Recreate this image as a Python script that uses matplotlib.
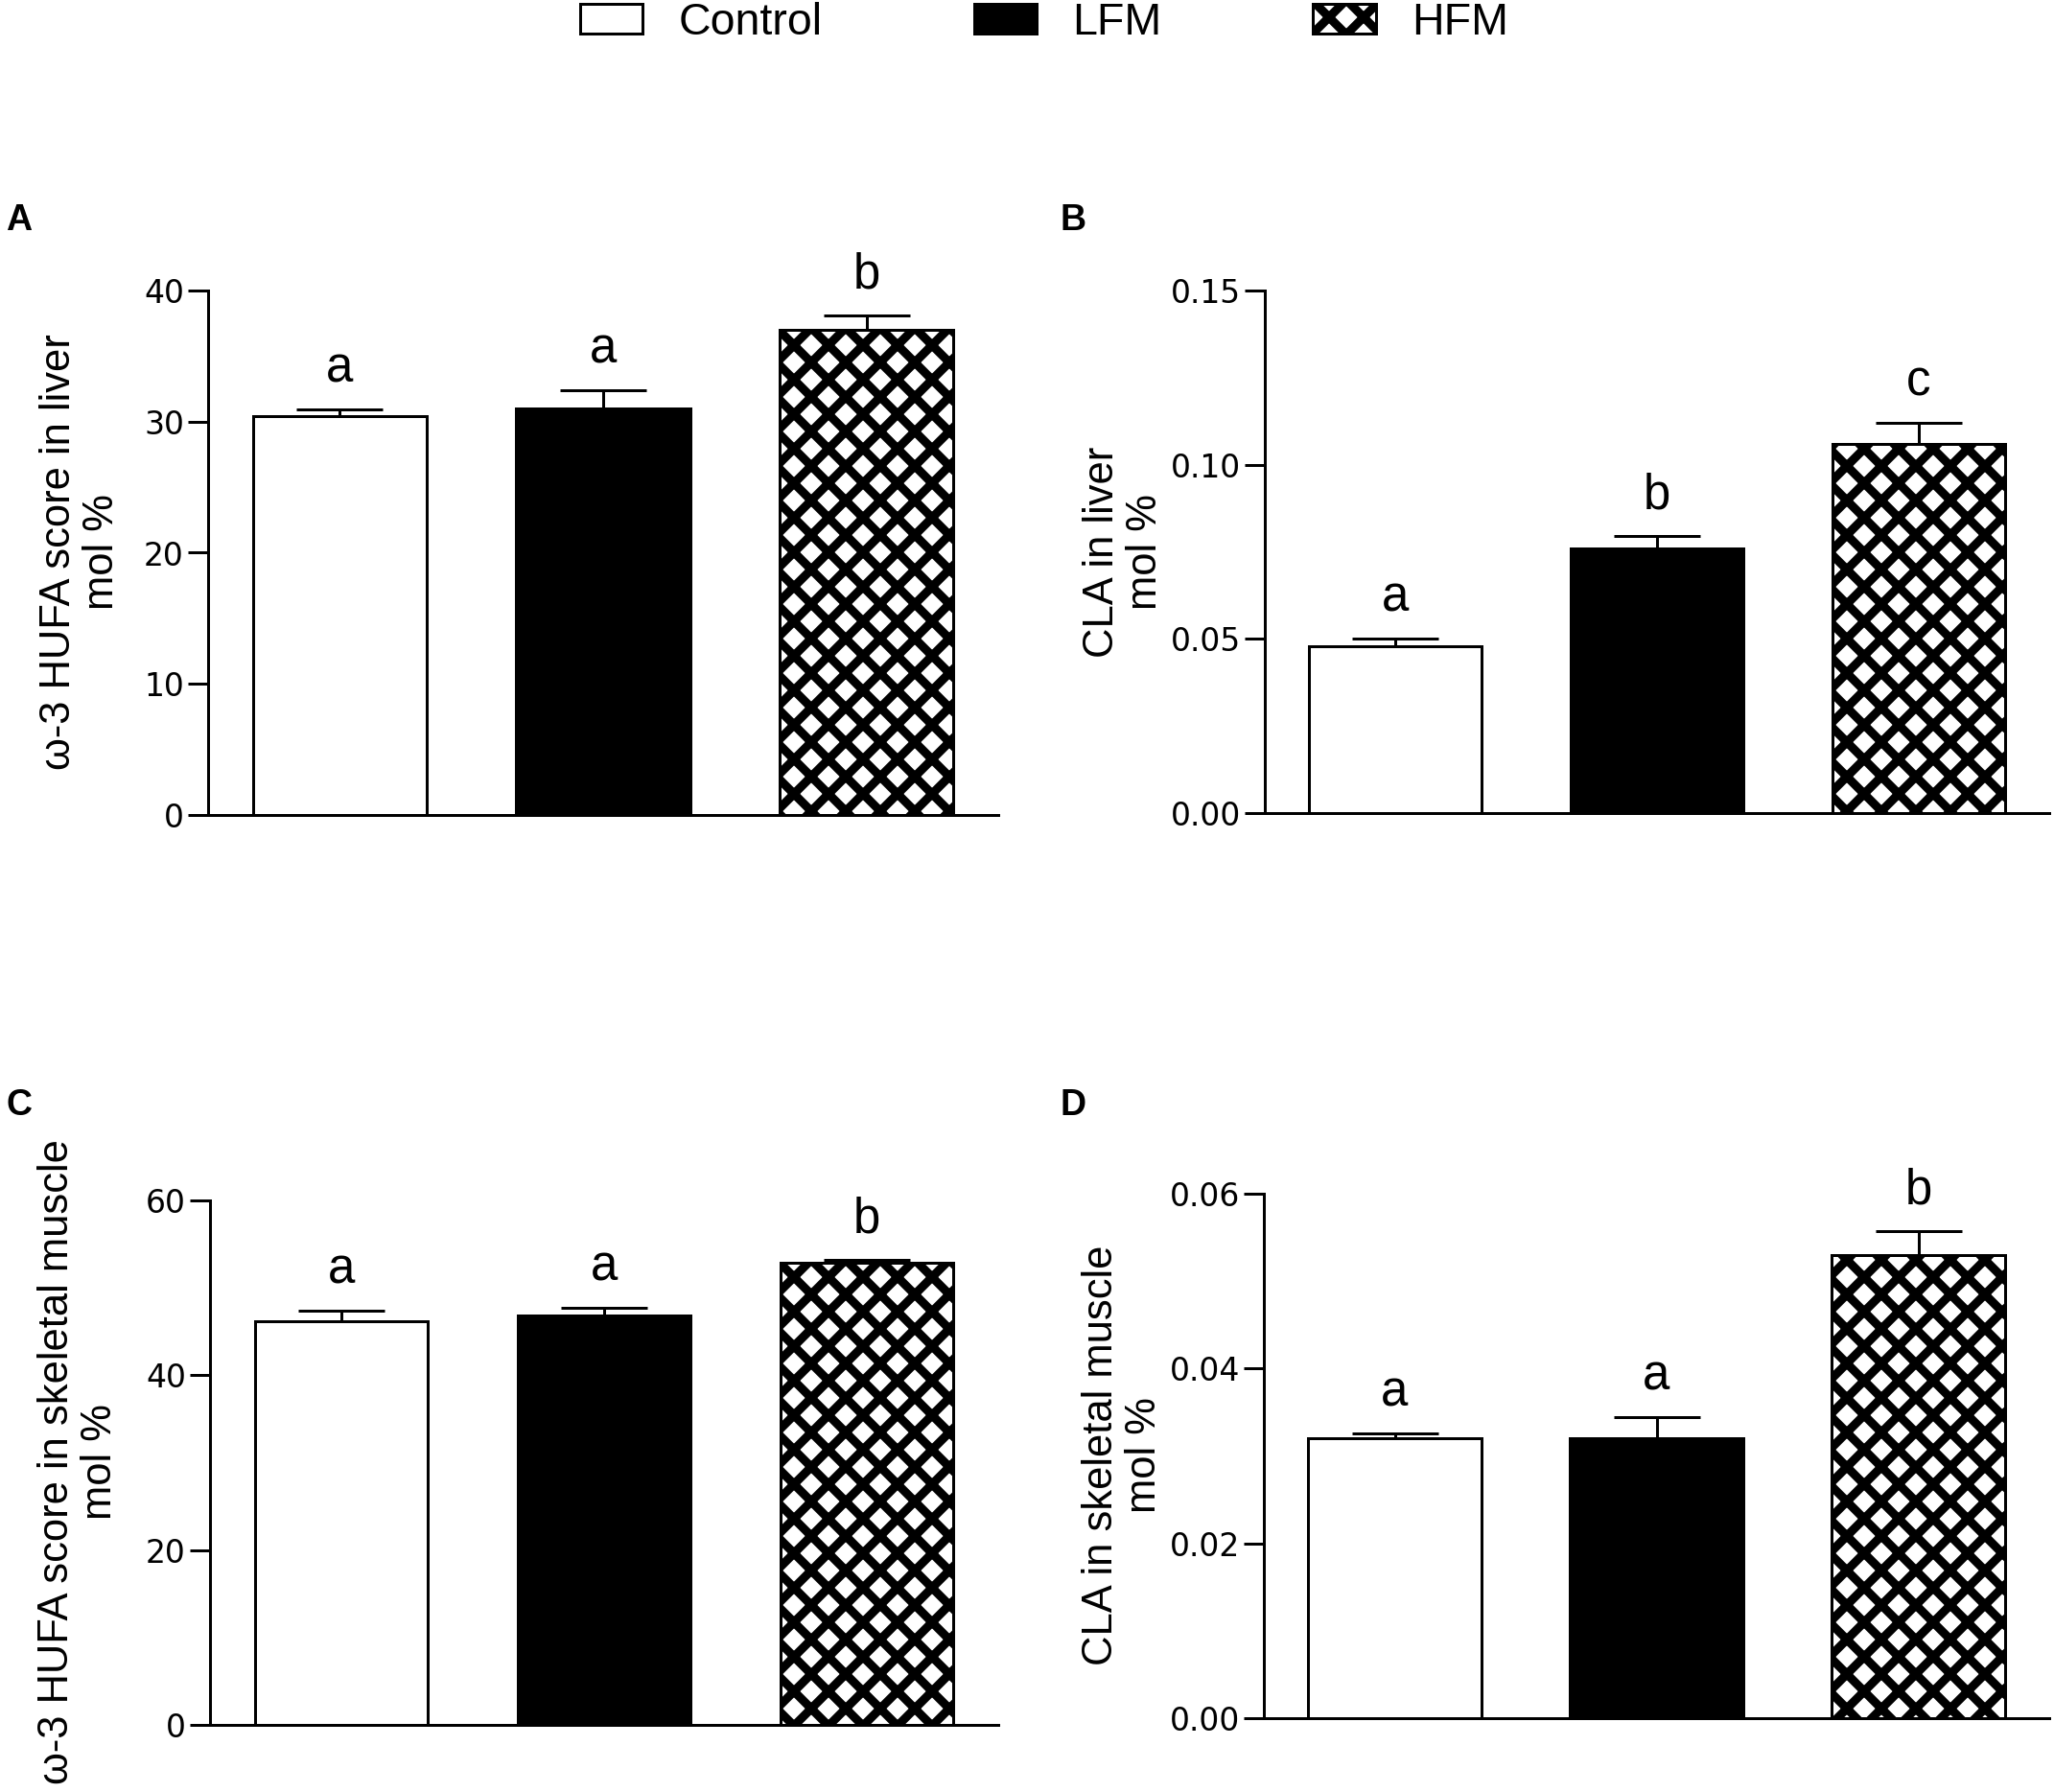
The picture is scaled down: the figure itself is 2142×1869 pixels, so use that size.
import matplotlib
matplotlib.use("Agg")
import matplotlib.pyplot as plt
from matplotlib.patches import Patch

# groups
groups = ["Control", "LFM", "HFM"]

# panel A: w-3 HUFA score in liver
hufa_liver = [30.4, 31.0, 37.0]
hufa_liver_sem = [0.5, 1.4, 1.1]
hufa_liver_sig = ["a", "a", "b"]

# panel B: CLA in liver
cla_liver = [0.048, 0.076, 0.106]
cla_liver_sem = [0.002, 0.0035, 0.006]
cla_liver_sig = ["a", "b", "c"]

# panel C: w-3 HUFA score in skeletal muscle
hufa_muscle = [46.2, 46.8, 52.9]
hufa_muscle_sem = [1.2, 0.9, 0.3]
hufa_muscle_sig = ["a", "a", "b"]

# panel D: CLA in skeletal muscle
cla_muscle = [0.032, 0.032, 0.053]
cla_muscle_sem = [0.0006, 0.0024, 0.0027]
cla_muscle_sig = ["a", "a", "b"]

# dpi 108 gives the hatch cell size of the original
W, H, DPI = 2142, 1869, 108
plt.rcParams['hatch.linewidth'] = 6.0
plt.rcParams['font.family'] = ['Liberation Sans', 'DejaVu Sans']

fig = plt.figure(figsize=(W / DPI, H / DPI), dpi=DPI)

face = ["white", "black", "white"]
hatch = [None, None, "x"]
LW = 2.0


def px_axes(l, r, t, b):
    return fig.add_axes([l / W, 1 - b / H, (r - l) / W, (b - t) / H])


def draw_panel(ax, vals, sems, sig, ymax, yticks, fmt):
    x = list(range(len(vals)))
    ax.errorbar(x, vals, yerr=[[0] * len(vals), sems], fmt="none",
                ecolor="black", elinewidth=LW, capsize=30, capthick=LW,
                zorder=1)
    for i in x:
        ax.bar(i, vals[i], width=0.66, color=face[i], edgecolor="black",
               linewidth=LW, hatch=hatch[i], zorder=2)
        ax.annotate(sig[i], (i, vals[i] + sems[i]), xytext=(0, 19),
                    textcoords="offset points", ha="center", va="baseline",
                    fontsize=34)
    ax.set_xlim(-0.5, 2.5)
    ax.set_ylim(0, ymax)
    ax.set_xticks([])
    ax.set_yticks(yticks)
    ax.set_yticklabels([fmt.format(v) for v in yticks],
                       family="DejaVu Sans", fontsize=22)
    ax.tick_params(axis="y", length=14, width=LW, pad=2.7)
    for s in ["top", "right"]:
        ax.spines[s].set_visible(False)
    for s in ["left", "bottom"]:
        ax.spines[s].set_linewidth(LW)


axA = px_axes(217, 1041, 303, 850)
draw_panel(axA, hufa_liver, hufa_liver_sem, hufa_liver_sig, 40,
           [0, 10, 20, 30, 40], "{:.0f}")
axB = px_axes(1319, 2137, 303, 848)
draw_panel(axB, cla_liver, cla_liver_sem, cla_liver_sig, 0.15,
           [0, 0.05, 0.10, 0.15], "{:.2f}")
axC = px_axes(219, 1041, 1252, 1799)
draw_panel(axC, hufa_muscle, hufa_muscle_sem, hufa_muscle_sig, 60,
           [0, 20, 40, 60], "{:.0f}")
axD = px_axes(1318, 2137, 1245, 1792)
draw_panel(axD, cla_muscle, cla_muscle_sem, cla_muscle_sig, 0.06,
           [0, 0.02, 0.04, 0.06], "{:.2f}")

# y labels
ylabels = [("\u03c9-3 HUFA score in liver\nmol %", 84, 576),
           ("CLA in liver\nmol %", 1172, 576),
           ("\u03c9-3 HUFA score in skeletal muscle\nmol %", 82, 1525),
           ("CLA in skeletal muscle\nmol %", 1171, 1518)]
for txt, xp, yp in ylabels:
    fig.text(xp / W, 1 - yp / H, txt, rotation=90, ha="center",
             va="center", multialignment="center", fontsize=29,
             linespacing=1.1)

# panel letters
for lab, xp, yp in [("A", 6, 240), ("B", 1106, 240),
                    ("C", 6, 1163), ("D", 1106, 1163)]:
    fig.text(xp / W, 1 - yp / H, lab, ha="left", va="baseline",
             fontsize=25, fontweight="bold")

handles = [Patch(facecolor=face[i], edgecolor="black", linewidth=LW,
                 hatch=hatch[i]) for i in range(3)]
fig.legend(handles, groups, loc="center", ncol=3, frameon=False,
           bbox_to_anchor=(1089 / W, 1 - 23.5 / H), fontsize=31,
           handlelength=1.4, handleheight=0.66, handletextpad=0.8,
           columnspacing=3.4, borderpad=0, borderaxespad=0)

fig.savefig("out.png", dpi=DPI, facecolor="white")
